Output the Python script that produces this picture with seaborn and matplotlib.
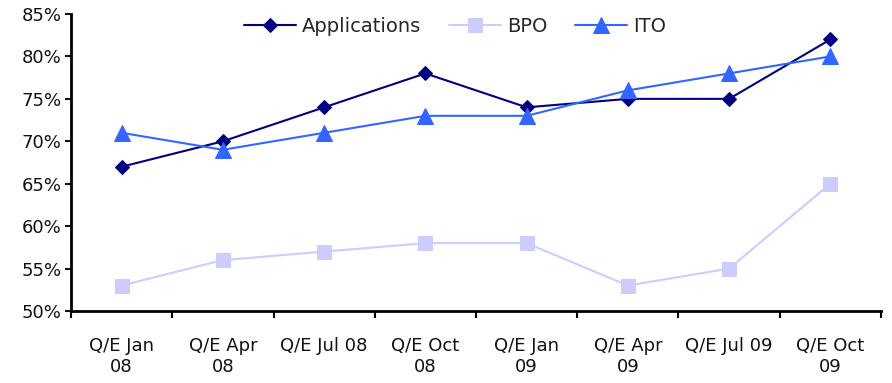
import matplotlib
matplotlib.use("Agg")
import matplotlib.pyplot as plt
import seaborn as sns
import pandas as pd
from matplotlib.ticker import FixedLocator, PercentFormatter

categories = ["Q/E Jan\n08", "Q/E Apr\n08", "Q/E Jul 08", "Q/E Oct\n08",
              "Q/E Jan\n09", "Q/E Apr\n09", "Q/E Jul 09", "Q/E Oct\n09"]
applications = [67, 70, 74, 78, 74, 75, 75, 82]
bpo = [53, 56, 57, 58, 58, 53, 55, 65]
ito = [71, 69, 71, 73, 73, 76, 78, 80]
series_names = ["Applications", "BPO", "ITO"]
yticks = [50, 55, 60, 65, 70, 75, 80, 85]

rows = []
for name, vals in zip(series_names, [applications, bpo, ito]):
    for i, v in enumerate(vals):
        rows.append({"idx": i, "value": v, "series": name})
df = pd.DataFrame(rows)

sns.set_style("white")
plt.rcParams["font.family"] = ["DejaVu Sans"]

fig = plt.figure(figsize=(8.92, 3.83), dpi=100)
ax = fig.add_axes([71/892, 1-311/383, 810/892, (311-14)/383])

palette = {"Applications": "#000080", "BPO": "#CCCCFF", "ITO": "#3366FF"}
markers = {"Applications": "D", "BPO": "s", "ITO": "^"}
sizes_m = {"Applications": 7, "BPO": 10, "ITO": 11}

for name in series_names:
    sub = df[df.series == name]
    sns.lineplot(data=sub, x="idx", y="value", ax=ax, color=palette[name],
                 marker=markers[name], markersize=sizes_m[name],
                 markeredgecolor=palette[name], linewidth=1.5, label=name)

ax.set_xlim(-0.5, 7.5)
ax.set_ylim(50, 85)
ax.yaxis.set_major_locator(FixedLocator(yticks))
ax.yaxis.set_major_formatter(PercentFormatter(decimals=0))
ax.xaxis.set_major_locator(FixedLocator([i - 0.5 for i in range(9)]))
ax.xaxis.set_minor_locator(FixedLocator(list(range(8))))
ax.set_xticklabels([""] * 9)
ax.set_xticklabels(categories, minor=True)
ax.tick_params(axis="x", which="major", length=5, width=1.5, direction="out", color="black", bottom=True)
ax.tick_params(axis="x", which="minor", length=0, labelsize=13, pad=19, colors="#111111")
ax.tick_params(axis="y", which="major", length=4, width=1.5, direction="out", labelsize=13, colors="#111111", left=True, pad=3)
ax.set_xlabel("")
ax.set_ylabel("")
for s in ["top", "right"]:
    ax.spines[s].set_visible(False)
for s in ["left", "bottom"]:
    ax.spines[s].set_color("black")
    ax.spines[s].set_linewidth(2)

ax.legend(loc="upper center", bbox_to_anchor=(0.474, 1.05), ncol=3, frameon=False,
          fontsize=14, handlelength=2.7, columnspacing=1.4, handletextpad=0.3)

fig.savefig("out.png", dpi=100)
